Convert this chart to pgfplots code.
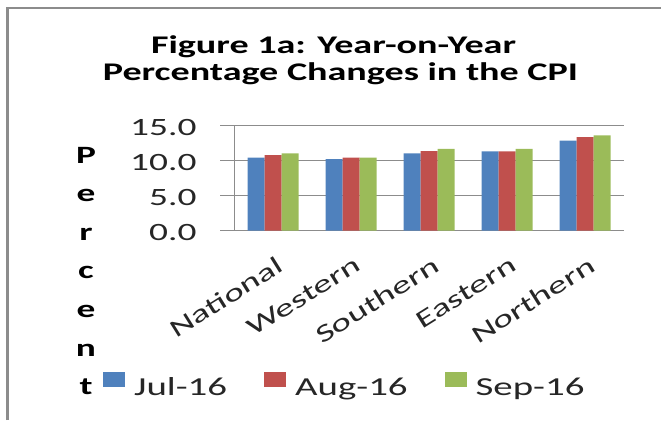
\documentclass[border=0pt]{standalone}
\usepackage{fontspec}
\setmainfont{Carlito}[FakeStretch=1.5]
\usepackage{pgfplots}
\pgfplotsset{compat=1.18}
\definecolor{cblue}{HTML}{4F81BD}
\definecolor{cred}{HTML}{C0504D}
\definecolor{cgreen}{HTML}{9BBB59}
\definecolor{gridc}{HTML}{8C8C8C}
\definecolor{txt}{HTML}{262626}
\begin{document}
\begin{tikzpicture}[x=1bp,y=1bp]
\useasboundingbox (0,0) rectangle (661,420);
\draw[gridc, line width=2.5bp] (7.5,0) -- (7.5,412) -- (661,412);
\node[font=\bfseries\fontsize{25.5}{27}\selectfont, anchor=base] at (333.5,367) {Figure 1a: Year-on-Year};
\node[font=\bfseries\fontsize{25.5}{27}\selectfont, anchor=base] at (340.5,340) {Percentage Changes in the CPI};
\node[font=\bfseries\fontsize{25}{38.7}\selectfont, align=center] at (86,149) {P\\e\\r\\c\\e\\n\\t};
\begin{axis}[
  at={(234bp,189.3bp)}, anchor=south west,
  scale only axis, width=390bp, height=105bp,
  xmin=-0.5, xmax=4.5, ymin=0, ymax=15,
  ybar=0pt, bar width=17bp,
  xtick={0,1,2,3,4},
  xticklabels={National,Western,Southern,Eastern,Northern},
  minor xtick={-0.5,0.5,1.5,2.5,3.5,4.5},
  ytick={0,5,10,15},
  ymajorgrids, grid style={gridc, line width=1bp},
  axis x line*=bottom, axis y line*=left,
  axis line style={gridc, line width=1bp, -},
  tick align=outside,
  major tick length=14bp, minor tick length=9bp,
  tick style={gridc, line width=1bp},
  xtick style={draw=none},
  /pgf/number format/assume math mode=true,
  yticklabel style={/pgf/number format/.cd, fixed, fixed zerofill, precision=1, /tikz/.cd,
     font=\fontsize{25}{25}\selectfont, text=txt, anchor=east, xshift=-20bp, yshift=-1.5bp},
  xticklabel style={font=\fontsize{25}{25}\selectfont, text=txt,
     xshift=4bp, yshift=-6bp, rotate=32, anchor=north east},
  legend columns=3,
  legend style={at={(-0.336,-1.465)}, anchor=west, draw=none, fill=none,
     inner sep=0pt, font=\fontsize{26}{26}\selectfont, text=txt,
     nodes={inner sep=0pt},
     /tikz/every odd column/.style={column sep=9bp},
     /tikz/every even column/.style={column sep=37bp}},
  legend image code/.code={\fill[#1, draw=none] (0bp,0bp) rectangle (22bp,15bp);},
]
\addplot[fill=cblue, draw=none] coordinates {(0,10.43) (1,10.24) (2,11.05) (3,11.33) (4,12.86)};
\addplot[fill=cred, draw=none] coordinates {(0,10.8) (1,10.43) (2,11.38) (3,11.33) (4,13.38)};
\addplot[fill=cgreen, draw=none] coordinates {(0,11.05) (1,10.43) (2,11.7) (3,11.7) (4,13.62)};
\legend{Jul-16,Aug-16,Sep-16}
\end{axis}
\end{tikzpicture}
\end{document}
